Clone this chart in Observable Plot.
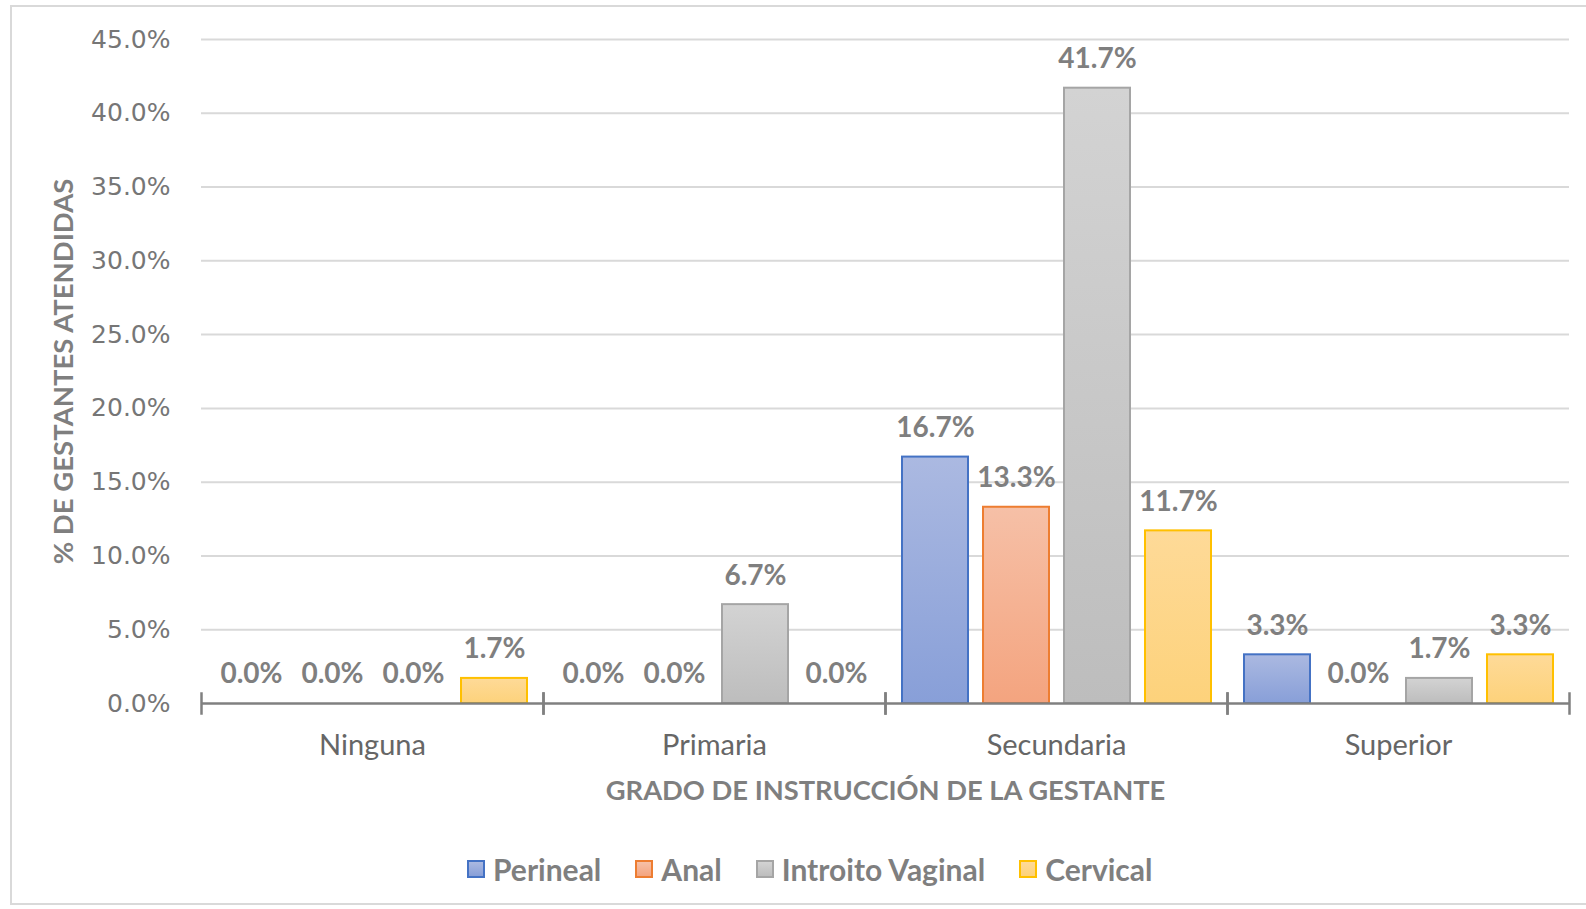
<!DOCTYPE html>
<html>
<head>
<meta charset="utf-8">
<script src="https://cdn.jsdelivr.net/npm/d3@7"></script>
<script src="https://cdn.jsdelivr.net/npm/@observablehq/plot@0.6"></script>
<style>
  body { margin: 0; background: #fff; width: 1586px; height: 909px; overflow: hidden; position: relative; font-family: Lato, "Open Sans", sans-serif; }
  #border { position: absolute; left: 10px; top: 5px; width: 1600px; height: 900px; border: 2px solid #d9d9d9; box-sizing: border-box; }
  #chart { position: absolute; left: 0; top: 0; }
  #legend { position: absolute; top: 851px; left: 467px; display: flex; align-items: center; gap: 34px; font-family: Lato, sans-serif; font-weight: 700; font-size: 30px; color: #7f7f7f; }
  .item { display: flex; align-items: center; gap: 8px; }
  .sw { width: 18px; height: 18px; box-sizing: border-box; border: 2px solid; }
  g[aria-label="y-axis label"] text { font-family: Lato, sans-serif; font-weight: 700; font-size: 27.5px; fill: #7f7f7f; }
  g[aria-label="fx-axis label"] text { font-family: Lato, sans-serif; font-weight: 700; font-size: 27.3px; fill: #7f7f7f; }
  g[aria-label="y-axis tick label"] { font-family: "DejaVu Sans", sans-serif; font-size: 25px; }
</style>
</head>
<body>
<div id="border"></div>
<div id="chart"></div>
<div id="legend"></div>
<script>
// ---- data ----
const categories = ["Ninguna", "Primaria", "Secundaria", "Superior"];
const series = ["Perineal", "Anal", "Introito Vaginal", "Cervical"];
const perineal = [0.0, 0.0, 16.7, 3.3];
const anal = [0.0, 0.0, 13.3, 0.0];
const introitoVaginal = [0.0, 6.7, 41.7, 1.7];
const cervical = [1.7, 0.0, 11.7, 3.3];
const yTicks = [0, 5, 10, 15, 20, 25, 30, 35, 40, 45];
const yTitle = "% DE GESTANTES ATENDIDAS";
const xTitle = "GRADO DE INSTRUCCIÓN DE LA GESTANTE";

// ---- styles ----
const gradTop = ["#abb9e1", "#f6c0a7", "#d3d3d3", "#feda98"];
const gradBottom = ["#889fd8", "#f4a47f", "#bdbdbd", "#fdd27b"];
const strokes = ["#4472c4", "#ed7d31", "#a5a5a5", "#ffc000"];

const values = [perineal, anal, introitoVaginal, cervical];
const rows = [];
series.forEach((s, si) => categories.forEach((c, ci) => rows.push({cat: c, series: s, value: values[si][ci], si})));

const defsMark = () => {
  const defs = d3.create("svg:defs");
  series.forEach((s, i) => {
    const lg = defs.append("linearGradient").attr("id", "g" + i).attr("x1", 0).attr("y1", 0).attr("x2", 0).attr("y2", 1);
    lg.append("stop").attr("offset", "0%").attr("stop-color", gradTop[i]);
    lg.append("stop").attr("offset", "100%").attr("stop-color", gradBottom[i]);
  });
  return defs.node();
};

const W = 1586, H = 830, mL = 201, mR = 17, mT = 39, mB = 127;
const innerH = H - mT - mB;

const chart = Plot.plot({
  width: W, height: H,
  marginLeft: mL, marginRight: mR, marginTop: mT, marginBottom: mB,
  style: {fontFamily: "Lato, sans-serif", fontSize: "24px", color: "#767676", background: "transparent", overflow: "visible"},
  fx: {domain: categories, padding: 0},
  x: {domain: series, paddingInner: 0.19, paddingOuter: 0.2, axis: null},
  y: {domain: [0, 45], axis: null},
  marks: [
    defsMark,
    Plot.gridY(yTicks.filter(d => d > 0), {stroke: "#d9d9d9", strokeOpacity: 1, strokeWidth: 2}),
    ...series.map((s, i) => Plot.barY(rows.filter(d => d.series === s && d.value > 0), {
      fx: "cat", x: "series", y: "value",
      fill: `url(#g${i})`, stroke: strokes[i], strokeWidth: 2
    })),
    Plot.ruleY([0], {stroke: "#808080", strokeWidth: 2.5}),
    Plot.frame({anchor: "left", stroke: "#808080", strokeWidth: 2.5, insetTop: innerH - 10, insetBottom: -10}),
    Plot.frame({anchor: "right", stroke: "#808080", strokeWidth: 2.5, insetTop: innerH - 10, insetBottom: -10}),
    Plot.text(rows, {
      fx: "cat", x: "series", y: "value",
      text: d => d.value.toFixed(1) + "%",
      dy: -29, lineAnchor: "middle",
      fontWeight: 700, fontSize: 28, fill: "#7f7f7f", fontFamily: "Lato, sans-serif"
    }),
    Plot.axisY(yTicks, {
      tickFormat: d => d.toFixed(1) + "%", tickSize: 0, tickPadding: 31,
      fontSize: 25, fill: "#767676",
      label: yTitle, labelAnchor: "center", labelArrow: "none", labelOffset: 148
    }),
    Plot.axisFx({
      anchor: "bottom", tickSize: 0, tickPadding: 31,
      fontSize: 29, fill: "#666666",
      label: xTitle, labelAnchor: "center", labelOffset: 96
    })
  ]
});
document.getElementById("chart").appendChild(chart);

// legend
const legend = document.getElementById("legend");
series.forEach((s, i) => {
  const item = document.createElement("div");
  item.className = "item";
  const sw = document.createElement("div");
  sw.className = "sw";
  sw.style.background = `linear-gradient(${gradTop[i]}, ${gradBottom[i]})`;
  sw.style.borderColor = strokes[i];
  const t = document.createElement("span");
  t.textContent = s;
  item.appendChild(sw); item.appendChild(t);
  legend.appendChild(item);
});
</script>
</body>
</html>
